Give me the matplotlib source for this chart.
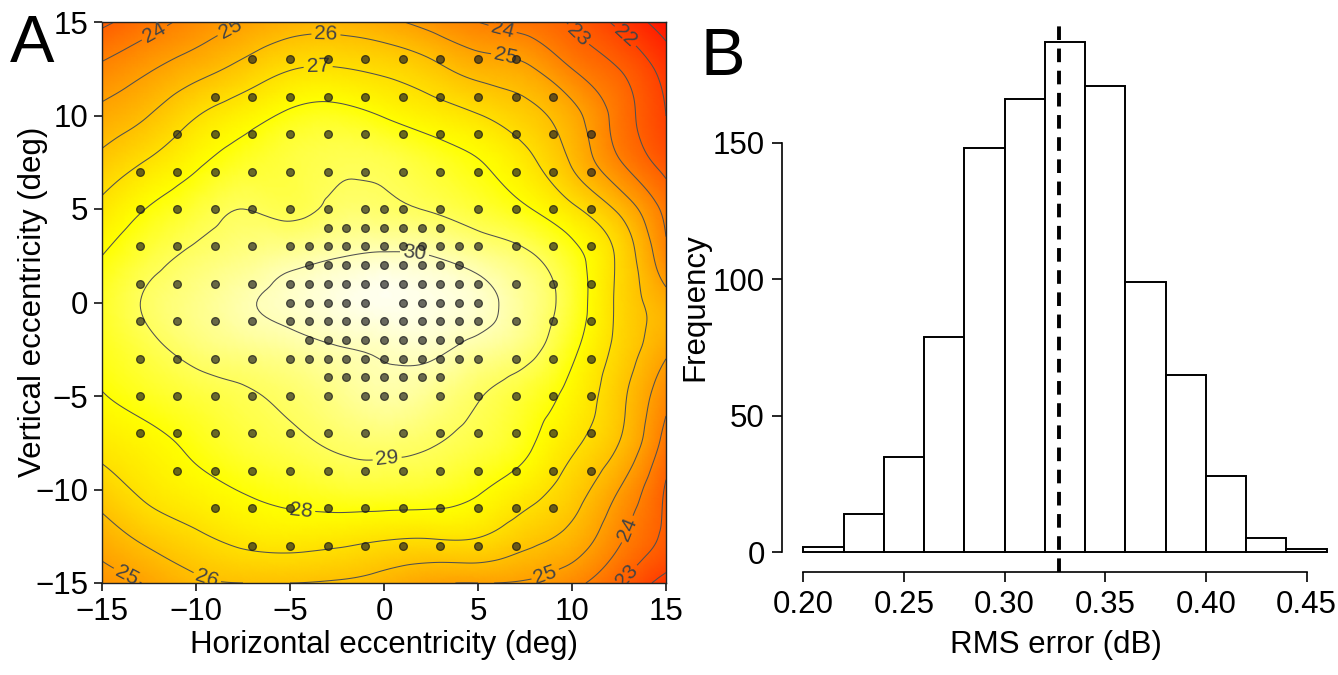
import numpy as np
import matplotlib
matplotlib.use("Agg")
import matplotlib.pyplot as plt
import matplotlib.tri as mtri
from matplotlib.colors import LinearSegmentedColormap

plt.rcParams['font.family'] = ['Liberation Sans', 'DejaVu Sans']

# ---------------- Panel A data ----------------
# Sensitivity (dB) on a 2.5-deg grid (rows top -> bottom)
grid_x = [-15, -12.5, -10, -7.5, -5, -2.5, 0, 2.5, 5, 7.5, 10, 12.5, 15]
grid_y = [15, 12.5, 10, 7.5, 5, 2.5, 0, -2.5, -5, -7.5, -10, -12.5, -15]
row_p15 = [22.8, 23.6, 24.35, 25.0, 25.5, 25.6, 25.25, 24.6, 24.0, 23.5, 22.9, 21.75, 20.5]
row_p12 = [24.2, 24.9, 25.6, 26.3, 26.95, 27.05, 26.8, 26.3, 25.6, 25.2, 24.0, 23.0, 21.6]
row_p10 = [25.3, 26.0, 26.95, 27.6, 28.15, 28.3, 27.95, 27.5, 27.05, 26.4, 25.35, 23.6, 22.0]
row_p07 = [26.3, 27.1, 27.85, 28.4, 28.7, 28.9, 28.85, 28.5, 28.05, 27.3, 25.9, 24.1, 22.6]
row_p05 = [27.25, 28.05, 28.6, 29.0, 28.85, 29.15, 29.15, 28.95, 28.6, 28.1, 27.2, 25.8, 23.7]
row_p02 = [28.0, 28.7, 29.15, 29.45, 29.7, 29.95, 30.1, 30.0, 29.6, 29.15, 28.3, 26.8, 24.2]
row_000 = [28.4, 29.1, 29.5, 29.9, 30.2, 30.45, 30.6, 30.5, 30.25, 29.6, 28.55, 26.8, 25.4]
row_m02 = [28.3, 28.8, 29.25, 29.5, 29.7, 29.95, 30.1, 30.15, 29.75, 29.3, 28.2, 26.7, 25.2]
row_m05 = [27.95, 28.35, 28.65, 28.9, 29.15, 29.5, 29.8, 29.55, 29.05, 28.55, 27.7, 26.3, 24.3]
row_m07 = [27.35, 27.75, 28.2, 28.6, 28.85, 29.1, 29.2, 29.05, 28.75, 28.2, 27.2, 26.0, 23.6]
row_m10 = [26.5, 27.25, 27.7, 28.05, 28.3, 28.5, 28.55, 28.45, 28.1, 27.45, 26.5, 25.0, 22.9]
row_m12 = [25.5, 26.3, 26.85, 27.3, 27.45, 27.35, 27.15, 27.1, 27.05, 26.4, 25.7, 24.2, 22.8]
row_m15 = [24.6, 25.1, 25.8, 26.0, 26.0, 25.9, 25.6, 25.1, 25.0, 24.9, 24.3, 23.05, 21.6]
field_rows = [row_p15, row_p12, row_p10, row_p07, row_p05, row_p02, row_000,
              row_m02, row_m05, row_m07, row_m10, row_m12, row_m15]
contour_levels = [21, 22, 23, 24, 25, 26, 27, 28, 29, 30]

# Test locations (deg): y value -> x values
odd_13 = [-7, -5, -3, -1, 1, 3, 5, 7]
odd_11 = [-9, -7, -5, -3, -1, 1, 3, 5, 7, 9]
odd_9 = [-11, -9, -7, -5, -3, -1, 1, 3, 5, 7, 9, 11]
odd_7 = [-13, -11, -9, -7, -5, -3, -1, 1, 3, 5, 7, 9, 11]
row_5 = [-13, -11, -9, -7, -5, -3, -1, 0, 1, 3, 5, 7, 9, 11]
row_4 = [-3, -2, -1, 0, 1, 2, 3]
row_3 = [-13, -11, -9, -7, -5, -4, -3, -2, -1, 0, 1, 2, 3, 4, 5, 7, 9, 11]
row_2 = [-4, -3, -2, -1, 0, 1, 2, 3, 4]
row_0 = [-5, -4, -3, -2, -1, 1, 2, 3, 4, 5]
locations = {13: odd_13, 11: odd_11, 9: odd_9, 7: odd_7, 5: row_5, 4: row_4,
             3: row_3, 2: row_2, 1: row_3, 0: row_0, -1: row_3, -2: row_2,
             -3: row_3, -4: row_4, -5: row_5, -7: odd_7, -9: odd_9,
             -11: odd_11, -13: odd_13}

# contour label anchor spots (deg)
label_spots = [(-12.2, 14.4), (-8.2, 14.7), (-3.1, 14.05), (-3.5, 12.5),
               (6.3, 14.6), (6.4, 12.9), (10.4, 14.4), (12.8, 14.2),
               (1.6, 2.4), (0.2, -8.6), (-4.5, -11.9), (-13.7, -14.6),
               (-9.4, -14.7), (8.6, -14.6), (12.9, -12.1), (12.7, -14.4)]

# ---------------- Panel B data ----------------
bin_edges = [0.20, 0.22, 0.24, 0.26, 0.28, 0.30, 0.32, 0.34, 0.36, 0.38, 0.40, 0.42, 0.44, 0.46]
counts = [2, 14, 35, 79, 148, 166, 187, 171, 99, 65, 28, 5, 1]
mean_rms = 0.327
xticks_B = [0.20, 0.25, 0.30, 0.35, 0.40, 0.45]
yticks_B = [0, 50, 100, 150]

# ---------------- Figure ----------------
W, H = 1338, 675
fig = plt.figure(figsize=(W / 100, H / 100), dpi=100)

def px_axes(l, t, r, b):
    return [l / W, 1 - b / H, (r - l) / W, (b - t) / H]

FS = 22.5

# ---- Panel A ----
axA = fig.add_axes(px_axes(102, 22, 666, 583))
heat = LinearSegmentedColormap.from_list(
    'heat', [(0.0, '#FF0000'), (0.75, '#FFFF00'), (1.0, '#FFFFF4')])

X, Y = np.meshgrid(np.array(grid_x, float), np.array(grid_y, float))
Z = np.array(field_rows, float)
nx, ny = len(grid_x), len(grid_y)
tris = []
for j in range(ny - 1):
    for i in range(nx - 1):
        a = j * nx + i
        b = a + 1
        c = a + nx
        d = c + 1
        tris.append([a, b, d])
        tris.append([a, d, c])
tri = mtri.Triangulation(X.ravel(), Y.ravel(), np.array(tris))
refiner = mtri.UniformTriRefiner(tri)
tri_f, z_f = refiner.refine_field(Z.ravel(), subdiv=4)

axA.tripcolor(tri_f, z_f, shading='gouraud', cmap=heat, vmin=19.9, vmax=30.7,
              rasterized=True)
cs = axA.tricontour(tri_f, z_f, levels=contour_levels, colors='#505050',
                    linewidths=0.75)
axA.clabel(cs, fmt='%d', fontsize=15, colors='#444444', inline=True,
           inline_spacing=3, manual=label_spots)

px, py = [], []
for yv, xs in locations.items():
    for xv in xs:
        px.append(xv)
        py.append(yv)
axA.plot(px, py, 'o', color='#222222', alpha=0.68, ms=5.6, mew=0.9,
         mec='#111111', zorder=5)

axA.set_xlim(-15, 15)
axA.set_ylim(-15, 15)
axA.set_xticks([-15, -10, -5, 0, 5, 10, 15])
axA.set_yticks([-15, -10, -5, 0, 5, 10, 15])
axA.tick_params(direction='out', length=6, width=1.1, labelsize=FS, pad=4)
for s in axA.spines.values():
    s.set_linewidth(1.0)
    s.set_color('#222222')

fig.text(384 / W, 1 - 645 / H, 'Horizontal eccentricity (deg)', ha='center',
         va='center', fontsize=FS)
fig.text(33 / W, 1 - 302 / H, 'Vertical eccentricity (deg)', ha='center',
         va='center', rotation=90, fontsize=FS)
fig.text(10 / W, 1 - 62 / H, 'A', fontsize=48, ha='left', va='baseline')

# ---- Panel B ----
axB = fig.add_axes(px_axes(782.3, 21.7, 1347.7, 572.4))
lefts = bin_edges[:-1]
widths = [bin_edges[k + 1] - bin_edges[k] for k in range(len(counts))]
axB.bar(lefts, counts, width=widths, align='edge', facecolor='white',
        edgecolor='black', linewidth=1.4)
axB.axvline(mean_rms, color='black', lw=2.8, dashes=(3.5, 2.2))
axB.set_xlim(0.1896, 0.4704)
axB.set_ylim(-7.48, 194.48)
axB.spines['top'].set_visible(False)
axB.spines['right'].set_visible(False)
axB.spines['left'].set_bounds(0, 150)
axB.spines['bottom'].set_bounds(0.20, 0.45)
for s in ('left', 'bottom'):
    axB.spines[s].set_linewidth(1.2)
axB.set_xticks(xticks_B)
axB.set_xticklabels(['%.2f' % v for v in xticks_B])
axB.set_yticks(yticks_B)
axB.tick_params(direction='out', length=7.5, width=1.2, labelsize=FS, pad=5)

fig.text(1056 / W, 1 - 645 / H, 'RMS error (dB)', ha='center', va='center',
         fontsize=FS)
fig.text(695 / W, 1 - 307 / H, 'Frequency', ha='center', va='center',
         rotation=90, fontsize=FS)
fig.text(701 / W, 1 - 75 / H, 'B', fontsize=48, ha='left', va='baseline')

fig.savefig('out.png', dpi=100)
